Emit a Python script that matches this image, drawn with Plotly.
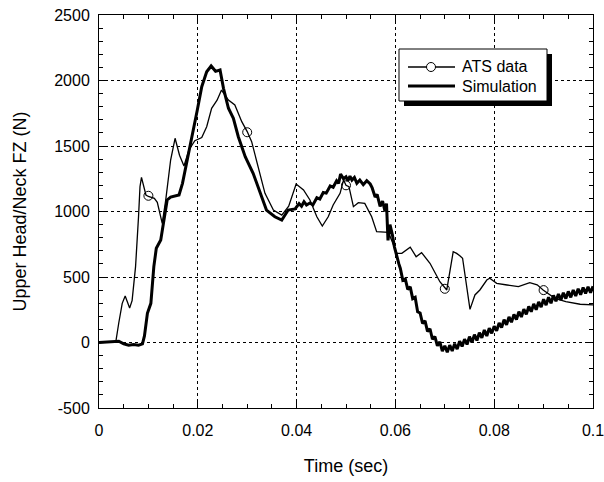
import plotly.graph_objects as go

# ATS data (thin line)
ats_t = [0.0, 0.002, 0.0034, 0.004, 0.0047, 0.0053, 0.0062, 0.0067, 0.0074, 0.008, 0.0083, 0.0086,
         0.0095, 0.010, 0.0112, 0.0118, 0.0128, 0.0135, 0.0145, 0.0154, 0.0163, 0.0172, 0.0182,
         0.0194, 0.0208, 0.0218, 0.0228, 0.0239, 0.0248, 0.0262, 0.0275, 0.0289, 0.030, 0.0309,
         0.0323, 0.0336, 0.0353, 0.037, 0.0384, 0.0399, 0.0414, 0.0427, 0.0441, 0.0452, 0.0464,
         0.0474, 0.0488, 0.0495, 0.050, 0.0506, 0.0515, 0.0525, 0.0538, 0.0552, 0.0562, 0.0586,
         0.0603, 0.0613, 0.063, 0.0642, 0.0653, 0.067, 0.069, 0.0704, 0.0717, 0.0724, 0.0731,
         0.0736, 0.0751, 0.0761, 0.0771, 0.0785, 0.0791, 0.0805, 0.0826, 0.0849, 0.0872, 0.0887,
         0.0899, 0.0923, 0.0945, 0.0974, 0.100]
ats_f = [0, 0, 5, 149, 299, 355, 263, 320, 579, 960, 1190, 1261,
         1126, 1115, 1100, 1070, 910, 1085, 1393, 1559, 1430, 1347, 1470,
         1540, 1565, 1647, 1788, 1850, 1927, 1851, 1813, 1686, 1610, 1533,
         1317, 1139, 1011, 973, 1040, 1210, 1164, 1088, 960, 889, 960,
         1050, 1139, 1240, 1200, 1190, 1037, 1067, 1062, 960, 846, 840,
         681, 681, 727, 655, 686, 605, 464, 401, 693, 680, 660,
         643, 253, 363, 401, 477, 490, 452, 439, 426, 457, 440,
         401, 337, 312, 292, 287]

# ATS marker symbols (open circles)
mark_t = [0.01, 0.03, 0.05, 0.07, 0.09]
mark_f = [1120, 1605, 1200, 410, 400]

# Simulation (thick line)
sim_t = [0.0, 0.002, 0.004, 0.005, 0.006, 0.007, 0.008, 0.0088, 0.0092, 0.0098, 0.0105, 0.0111,
         0.0116, 0.0125, 0.0132, 0.0138, 0.0145, 0.0155, 0.0162, 0.0169, 0.0179, 0.0189, 0.0199,
         0.0208, 0.0218, 0.0227, 0.0236, 0.0245, 0.0252, 0.0262, 0.0272, 0.0282, 0.0296, 0.0312,
         0.0326, 0.0339, 0.0356, 0.037, 0.0383, 0.0397,
         0.0405, 0.041, 0.0415, 0.042, 0.0427, 0.0433, 0.0441, 0.0447, 0.0454, 0.046, 0.0468,
         0.0474, 0.0481, 0.0485, 0.0489, 0.0495, 0.050, 0.0504, 0.0508, 0.0512, 0.0517, 0.0522,
         0.0528, 0.0535, 0.0542, 0.0549, 0.0553, 0.0559, 0.0563, 0.0569, 0.0574, 0.0579, 0.0582,
         0.0585, 0.0589, 0.0594, 0.0598, 0.0603, 0.0607,
         0.0610, 0.0615, 0.0620, 0.0625, 0.0630, 0.0635, 0.0640, 0.0645, 0.0650, 0.0655,
         0.0660, 0.0665, 0.0670, 0.0675, 0.0680, 0.0685, 0.0690, 0.0695, 0.0700, 0.0705,
         0.0710, 0.0715, 0.0720, 0.0725, 0.0730, 0.0735, 0.0740, 0.0745, 0.0750, 0.0755,
         0.0760, 0.0765, 0.0770, 0.0775, 0.0780, 0.0785, 0.0790, 0.0795, 0.0800, 0.0805,
         0.0810, 0.0815, 0.0820, 0.0825, 0.0830, 0.0835, 0.0840, 0.0845, 0.0850, 0.0855,
         0.0860, 0.0865, 0.0870, 0.0875, 0.0880, 0.0885, 0.0890, 0.0895, 0.0900, 0.0905,
         0.0910, 0.0915, 0.0920, 0.0925, 0.0930, 0.0935, 0.0940, 0.0945, 0.0950, 0.0955,
         0.0960, 0.0965, 0.0970, 0.0975, 0.0980, 0.0985, 0.0990, 0.0995, 0.1000]
sim_f = [0, 5, 10, -10, -20, -15, -20, -10, 50, 223, 299, 579,
         719, 782, 960, 1088, 1110, 1120, 1126, 1215, 1393, 1571, 1775,
         1953, 2067, 2111, 2070, 2080, 1940, 1788, 1711, 1571, 1418, 1292,
         1139, 1011, 960, 935, 1011, 1020,
         1060, 1040, 1075, 1050, 1065, 1050, 1105, 1095, 1145, 1140, 1195,
         1185, 1235, 1215, 1285, 1250, 1265, 1235, 1270, 1240, 1260, 1215,
         1240, 1205, 1235, 1210, 1180, 1110, 1130, 1040, 1080, 1000, 1060,
         780, 900, 820, 730, 650, 600,
         565, 475, 485, 405, 425, 335, 345, 235, 225, 145,
         165, 85, 105, 25, 45, -25, 5, -65, -25, -75,
         -20, -65, -10, -50, 10, -30, 25, -15, 45, 0,
         60, 15, 75, 35, 95, 50, 110, 70, 125, 90,
         150, 115, 175, 135, 195, 155, 215, 175, 235, 195,
         255, 215, 275, 235, 295, 250, 310, 270, 330, 285,
         345, 300, 360, 315, 370, 325, 380, 335, 390, 345,
         400, 355, 410, 365, 420, 375, 425, 380, 430]

x_tickvals = [0, 0.02, 0.04, 0.06, 0.08, 0.1]
x_ticktext = ["0", "0.02", "0.04", "0.06", "0.08", "0.1"]
y_tickvals = [-500, 0, 500, 1000, 1500, 2000, 2500]
y_ticktext = ["-500", "0", "500", "1000", "1500", "2000", "2500"]
series_names = ["ATS data", "Simulation"]

FONT = "Liberation Sans, Arial, sans-serif"

fig = go.Figure()
fig.add_trace(go.Scatter(x=ats_t, y=ats_f, mode="lines", name=series_names[0],
                         line=dict(color="black", width=1.3), showlegend=False, hoverinfo="skip"))
fig.add_trace(go.Scatter(x=mark_t, y=mark_f, mode="markers", name=series_names[0],
                         marker=dict(symbol="circle-open", size=9, color="black", line=dict(width=1)),
                         showlegend=False, hoverinfo="skip"))
fig.add_trace(go.Scatter(x=sim_t, y=sim_f, mode="lines", name=series_names[1],
                         line=dict(color="black", width=3), showlegend=False, hoverinfo="skip"))

axis_common = dict(showline=True, linecolor="black", linewidth=1, mirror="ticks",
                   ticks="inside", ticklen=7, tickcolor="black", zeroline=False,
                   showgrid=True, gridcolor="black", griddash="dot", gridwidth=1,
                   automargin=False, ticklabeloverflow="allow",
                   tickfont=dict(family=FONT, size=16, color="black"))

fig.update_xaxes(range=[0, 0.1], tickvals=x_tickvals, ticktext=x_ticktext,
                 ticklabelstandoff=8,
                 minor=dict(dtick=0.005, tick0=0, ticks="inside", ticklen=4, tickcolor="black", showgrid=False),
                 title=dict(text="Time (sec)", font=dict(family=FONT, size=18, color="black"), standoff=21),
                 **axis_common)
fig.update_yaxes(range=[-500, 2500], tickvals=y_tickvals, ticktext=y_ticktext,
                 ticklabelstandoff=5,
                 minor=dict(dtick=100, tick0=0, ticks="inside", ticklen=4, tickcolor="black", showgrid=False),
                 title=dict(text="Upper Head/Neck FZ (N)", font=dict(family=FONT, size=18, color="black"), standoff=22),
                 **axis_common)

# legend box drawn in paper coordinates (plot area: x 99..593 px, y 15..408 px)
def px(x):
    return (x - 99) / 494

def py(y):
    return (408 - y) / 393

fig.add_shape(type="rect", xref="paper", yref="paper", x0=px(404), x1=px(552), y0=py(106), y1=py(54),
              fillcolor="black", line=dict(width=0), layer="above")
fig.add_shape(type="rect", xref="paper", yref="paper", x0=px(399), x1=px(547), y0=py(101), y1=py(49),
              fillcolor="white", line=dict(color="black", width=1), layer="above")
fig.add_shape(type="line", xref="paper", yref="paper", x0=px(408), x1=px(455), y0=py(67), y1=py(67),
              line=dict(color="black", width=1.3), layer="above")
fig.add_shape(type="circle", xref="paper", yref="paper", x0=px(426.5), x1=px(435.5), y0=py(71.5), y1=py(62.5),
              fillcolor="white", line=dict(color="black", width=1), layer="above")
fig.add_shape(type="line", xref="paper", yref="paper", x0=px(408), x1=px(455), y0=py(86), y1=py(86),
              line=dict(color="black", width=3), layer="above")
fig.add_annotation(xref="paper", yref="paper", x=px(460), y=py(67), text=series_names[0],
                   xanchor="left", yanchor="middle", showarrow=False,
                   font=dict(family=FONT, size=16, color="black"))
fig.add_annotation(xref="paper", yref="paper", x=px(460), y=py(86), text=series_names[1],
                   xanchor="left", yanchor="middle", showarrow=False,
                   font=dict(family=FONT, size=16, color="black"))

fig.update_layout(
    width=604, height=482,
    margin=dict(l=99, r=11, t=15, b=74),
    paper_bgcolor="white", plot_bgcolor="white",
    font=dict(family=FONT, size=16, color="black"),
    showlegend=False,
)

fig.write_html("out.html", config={"displayModeBar": False},
               post_script="document.body.style.margin='0';")
